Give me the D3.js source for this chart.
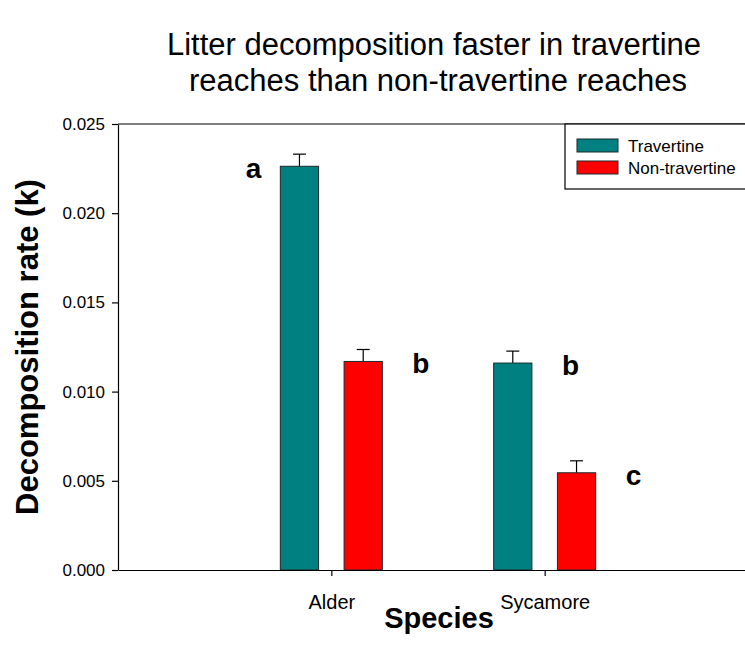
<!DOCTYPE html>
<html>
<head>
<meta charset="utf-8">
<script src="https://cdn.jsdelivr.net/npm/d3@7"></script>
<style>
  body { margin: 0; background: #fff; }
  text { font-family: "Liberation Sans", Arial, sans-serif; fill: #000; }
</style>
</head>
<body>
<div id="chart"></div>
<script>
var species = ["Alder", "Sycamore"];
var seriesNames = ["Travertine", "Non-travertine"];
var seriesColors = ["#008080", "#ff0000"];
var travertine = [0.02263, 0.0116];
var travertineErr = [0.00068, 0.00067];
var nonTravertine = [0.01169, 0.00545];
var nonTravertineErr = [0.00067, 0.00067];
var letters = ["a", "b", "b", "c"];
var yTicks = [0, 0.005, 0.010, 0.015, 0.020, 0.025];

var W = 745, H = 662;
var margin = { top: 124, left: 118 };
var plotW = 640, plotH = 446;

var svg = d3.select("#chart").append("svg")
  .attr("width", W)
  .attr("height", H);

// title
var title = svg.append("text")
  .attr("text-anchor", "middle")
  .style("font-size", "31px");
title.append("tspan").attr("x", 434).attr("y", 55).text("Litter decomposition faster in travertine");
title.append("tspan").attr("x", 438).attr("y", 91).text("reaches than non-travertine reaches");

var xScale = d3.scalePoint()
  .domain(species)
  .range([margin.left, margin.left + plotW])
  .padding(1);

var xSub = d3.scaleBand()
  .domain(seriesNames)
  .range([-51, 51])
  .paddingInner(0.4);

var yScale = d3.scaleLinear()
  .domain([0, 0.025])
  .range([margin.top + plotH, margin.top]);

// flatten the bars
var bars = [];
species.forEach(function(s, i) {
  bars.push({ sp: s, series: seriesNames[0], v: travertine[i], e: travertineErr[i], color: seriesColors[0] });
  bars.push({ sp: s, series: seriesNames[1], v: nonTravertine[i], e: nonTravertineErr[i], color: seriesColors[1] });
});
bars.forEach(function(d, i) { d.letter = letters[i]; });

// frame top line
svg.append("line")
  .attr("x1", margin.left).attr("x2", margin.left + plotW)
  .attr("y1", margin.top).attr("y2", margin.top)
  .attr("stroke", "#000").attr("stroke-width", 1.2);

// error bars (upper only)
var eb = svg.append("g");
bars.forEach(function(d) {
  var cx = xScale(d.sp) + xSub(d.series) + xSub.bandwidth() / 2;
  eb.append("line")
    .attr("x1", cx).attr("x2", cx)
    .attr("y1", yScale(d.v)).attr("y2", yScale(d.v + d.e))
    .attr("stroke", "#000").attr("stroke-width", 1.2);
  eb.append("line")
    .attr("x1", cx - 6.5).attr("x2", cx + 6.5)
    .attr("y1", yScale(d.v + d.e)).attr("y2", yScale(d.v + d.e))
    .attr("stroke", "#000").attr("stroke-width", 1.2);
});

svg.append("g").selectAll("rect")
  .data(bars)
  .enter().append("rect")
  .attr("x", function(d) { return xScale(d.sp) + xSub(d.series); })
  .attr("y", function(d) { return yScale(d.v); })
  .attr("width", xSub.bandwidth())
  .attr("height", function(d) { return yScale(0) - yScale(d.v); })
  .attr("fill", function(d) { return d.color; })
  .attr("stroke", "#1a2a2a")
  .attr("stroke-width", 1);

// significance letters: "a" sits left of its bar, the rest to the right
svg.append("g").selectAll("text")
  .data(bars)
  .enter().append("text")
  .attr("x", function(d, i) {
    var left = xScale(d.sp) + xSub(d.series);
    return i == 0 ? left - 19 : left + xSub.bandwidth() + 30;
  })
  .attr("y", function(d) { return yScale(d.v) + 12; })
  .attr("text-anchor", function(d, i) { return i == 0 ? "end" : "start"; })
  .style("font-size", "28px")
  .style("font-weight", "bold")
  .text(function(d) { return d.letter; });

// axes
var yAxis = d3.axisLeft(yScale)
  .tickValues(yTicks)
  .tickFormat(d3.format(".3f"))
  .tickSize(6)
  .tickSizeOuter(0)
  .tickPadding(7);

var gy = svg.append("g")
  .attr("transform", "translate(" + margin.left + ",0)")
  .call(yAxis);

var xAxis = d3.axisBottom(xScale)
  .tickSize(6)
  .tickSizeOuter(0)
  .tickPadding(19);

var gx = svg.append("g")
  .attr("transform", "translate(0," + (margin.top + plotH) + ")")
  .call(xAxis);

[gx, gy].forEach(function(g) {
  g.select(".domain").attr("stroke", "#000").attr("stroke-width", 1.2);
  g.selectAll(".tick line").attr("stroke", "#000").attr("stroke-width", 1.2);
  g.selectAll(".tick text")
    .style("font-family", "'Liberation Sans', Arial, sans-serif")
    .style("font-size", "17px")
    .attr("fill", "#000");
});
gx.selectAll(".tick text").style("font-size", "20px");

// axis titles
svg.append("text")
  .attr("transform", "translate(38," + (margin.top + plotH / 2) + ") rotate(-90)")
  .attr("text-anchor", "middle")
  .style("font-size", "31px")
  .style("font-weight", "bold")
  .text("Decomposition rate (k)");

svg.append("text")
  .attr("x", 439)
  .attr("y", 628)
  .attr("text-anchor", "middle")
  .style("font-size", "29px")
  .style("font-weight", "bold")
  .text("Species");

// legend
var legend = svg.append("g");
legend.append("rect")
  .attr("x", 565).attr("y", margin.top)
  .attr("width", 200).attr("height", 65)
  .attr("fill", "#fff")
  .attr("stroke", "#000").attr("stroke-width", 1.2);

seriesNames.forEach(function(name, i) {
  legend.append("rect")
    .attr("x", 577).attr("y", 139 + i * 22)
    .attr("width", 41).attr("height", 13)
    .attr("fill", seriesColors[i])
    .attr("stroke", "#1a2a2a").attr("stroke-width", 1);
  legend.append("text")
    .attr("x", 628).attr("y", 152 + i * 22)
    .style("font-size", "17px")
    .text(name);
});
</script>
</body>
</html>
